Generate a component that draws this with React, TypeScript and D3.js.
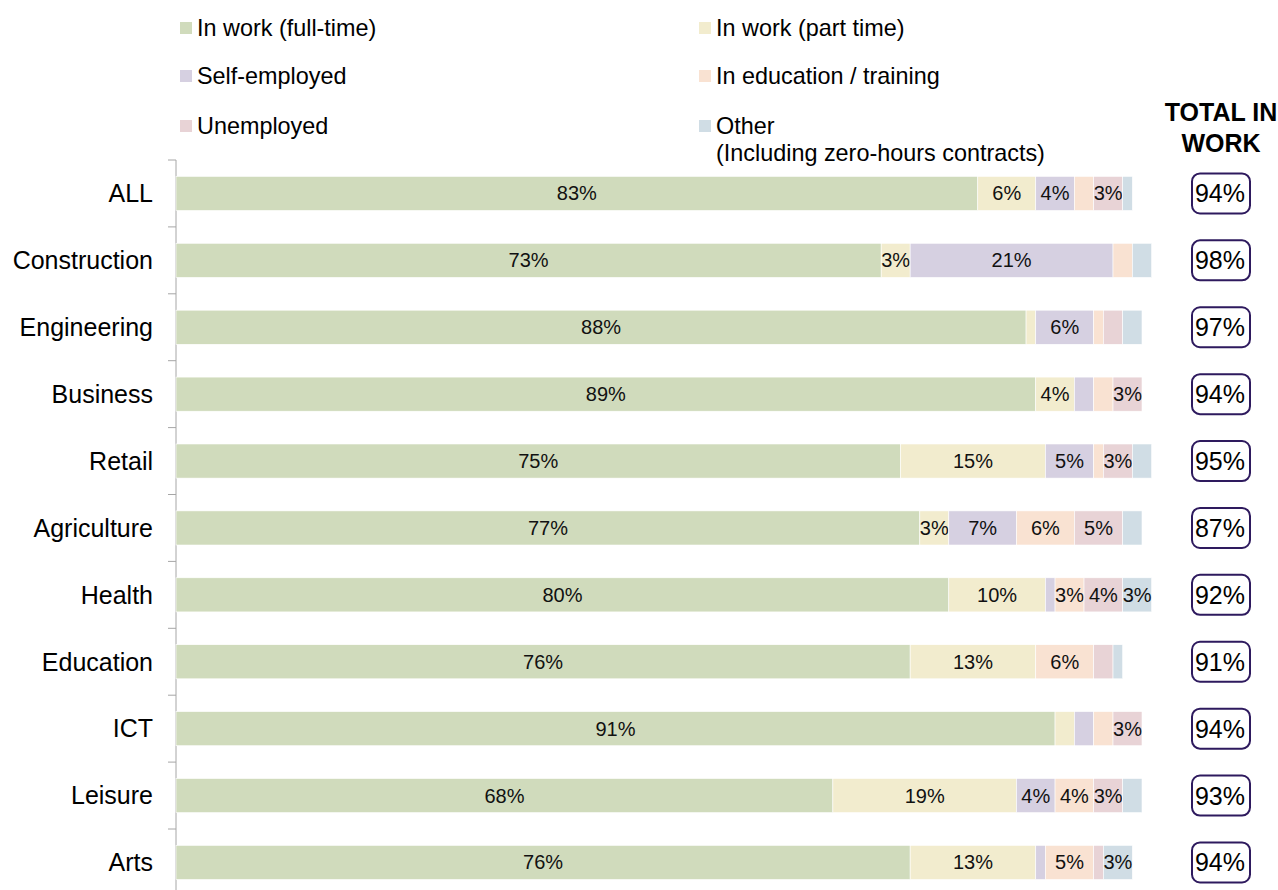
import React from "react";
import * as d3 from "d3";

const categories = ["ALL", "Construction", "Engineering", "Business", "Retail", "Agriculture", "Health", "Education", "ICT", "Leisure", "Arts"];
const seriesNames = ["In work (full-time)", "In work (part time)", "Self-employed", "In education / training", "Unemployed", "Other"];
const fullTime = [83, 73, 88, 89, 75, 77, 80, 76, 91, 68, 76];
const partTime = [6, 3, 1, 4, 15, 3, 10, 13, 2, 19, 13];
const selfEmployed = [4, 21, 6, 2, 5, 7, 1, 0, 2, 4, 1];
const education = [2, 2, 1, 2, 1, 6, 3, 6, 2, 4, 5];
const unemployed = [3, 0, 2, 3, 3, 5, 4, 2, 3, 3, 1];
const other = [1, 2, 2, 0, 2, 2, 3, 1, 0, 2, 3];
const totalInWork = [94, 98, 97, 94, 95, 87, 92, 91, 94, 93, 94];

const colors = ["#d0dbbc", "#f2ecce", "#d6d0e1", "#f9e2d2", "#e8d3d6", "#d0dde5"];
const FONT = "'Liberation Sans', Arial, sans-serif";

export default function App() {
  const W = 1278, H = 890;
  const x0 = 176;
  const x = d3.scaleLinear().domain([0, 100]).range([x0, x0 + 966]);
  const y = d3.scaleBand().domain(categories).range([160, 160 + 66.9 * 11]).paddingInner(0.49).paddingOuter(0.245);
  const series = [fullTime, partTime, selfEmployed, education, unemployed, other];
  const rows = categories.map((c, i) => {
    const obj: any = { cat: c };
    seriesNames.forEach((s, j) => (obj[s] = series[j][i]));
    return obj;
  });
  const stacked = d3.stack().keys(seriesNames)(rows);
  const step = y.step();
  const tickYs = d3.range(categories.length + 1).map((i) => 160 + i * step);

  const legendItems = [
    { i: 0, x: 180, y: 28, lines: [seriesNames[0]] },
    { i: 1, x: 699, y: 28, lines: [seriesNames[1]] },
    { i: 2, x: 180, y: 76, lines: [seriesNames[2]] },
    { i: 3, x: 699, y: 76, lines: [seriesNames[3]] },
    { i: 4, x: 180, y: 126, lines: [seriesNames[4]] },
    { i: 5, x: 699, y: 126, lines: ["Other", "(Including zero-hours contracts)"] },
  ];

  return (
    <svg width={W} height={H} style={{ position: "absolute", left: 0, top: 0, background: "#fff" }} fontFamily={FONT}>
      {/* legend */}
      {legendItems.map((l) => (
        <g key={l.i}>
          <rect x={l.x} y={l.y - 6} width={12} height={12} fill={colors[l.i]} />
          {l.lines.map((t, k) => (
            <text key={k} x={l.x + 17} y={l.y + k * 27} dy="0.35em" fontSize={23.4} fill="#000">{t}</text>
          ))}
        </g>
      ))}
      {/* header */}
      <text x={1221} y={112} dy="0.35em" textAnchor="middle" fontSize={25} fontWeight="bold">TOTAL IN</text>
      <text x={1221} y={143} dy="0.35em" textAnchor="middle" fontSize={25} fontWeight="bold">WORK</text>
      {/* axis */}
      <line x1={x0} x2={x0} y1={160} y2={H} stroke="#a6a6a6" strokeWidth={1} />
      {tickYs.map((t, i) => (
        <line key={i} x1={x0 - 8} x2={x0} y1={t} y2={t} stroke="#a6a6a6" strokeWidth={1} />
      ))}
      {categories.map((c) => (
        <text key={c} x={153} y={(y(c) as number) + y.bandwidth() / 2} dy="0.35em" textAnchor="end" fontSize={25} fill="#000">{c}</text>
      ))}
      {/* bars */}
      {stacked.map((s, j) => (
        <g key={j}>
          {s.map((d, i) => {
            const w = x(d[1]) - x(d[0]);
            if (w <= 0) return null;
            const yy = y(categories[i]) as number;
            const v = d[1] - d[0];
            return (
              <g key={i}>
                <rect x={x(d[0])} y={yy} width={w} height={y.bandwidth()} fill={colors[j]} stroke="#fff" strokeWidth={0.6} />
                {v >= 3 && (
                  <text x={(x(d[0]) + x(d[1])) / 2} y={yy + y.bandwidth() / 2} dy="0.35em" textAnchor="middle" fontSize={20} fill="#111">{v}%</text>
                )}
              </g>
            );
          })}
        </g>
      ))}
      {/* totals */}
      {categories.map((c, i) => {
        const cy = (y(c) as number) + y.bandwidth() / 2;
        return (
          <g key={c}>
            <rect x={1192} y={cy - 20} width={58} height={40} rx={8} ry={8} fill="#fff" stroke="#2e1a5e" strokeWidth={2} />
            <text x={1220} y={cy} dy="0.36em" textAnchor="middle" fontSize={25} fill="#000">{totalInWork[i]}%</text>
          </g>
        );
      })}
    </svg>
  );
}
